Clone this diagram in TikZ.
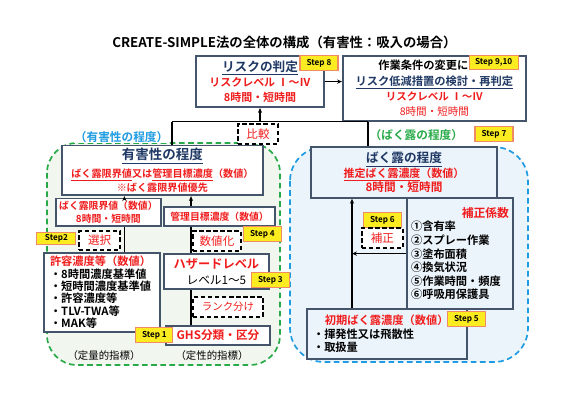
\documentclass[tikz,border=0pt]{standalone}
\usepackage{fontspec}
\setmainfont{Noto Sans CJK JP}[BoldFont={Noto Sans CJK JP Bold}]
\usetikzlibrary{positioning, arrows.meta, calc, backgrounds}

\definecolor{boxline}{RGB}{68,84,106}
\definecolor{navy}{RGB}{31,56,100}
\definecolor{myred}{RGB}{240,28,28}
\definecolor{hzgreen}{RGB}{40,170,72}
\definecolor{hzfill}{RGB}{241,246,238}
\definecolor{exblue}{RGB}{30,155,225}
\definecolor{exfill}{RGB}{236,244,251}
\definecolor{tagfill}{RGB}{250,236,32}
\definecolor{tagline}{RGB}{240,140,100}

\newcommand{\fsz}[2]{\fontsize{#1}{#2}\selectfont}

\begin{document}
\begin{tikzpicture}[
  align=center,
  % box styles
  mainbox/.style={draw=boxline, rectangle, line width=1.3pt, inner sep=2pt},
  notebox/.style={draw=black, dashed, dash pattern=on 3pt off 2pt, line width=0.9pt, fill=white, text=myred, minimum height=0.5cm, inner sep=1pt, font=\fsz{8.2}{9}},
  steptag/.style={draw=tagline, fill=tagfill, line width=0.8pt, minimum width=0.95cm, minimum height=0.36cm, inner sep=1pt, font=\fsz{5.8}{6}\bfseries},
  zonebox/.style={dashed, dash pattern=on 4pt off 2.5pt, line width=1.2pt},
  % connector styles
  line/.style={draw, -{Stealth[length=3.5pt, width=3pt]}, line width=0.8pt},
  seg/.style={draw, line width=0.8pt}
]
  \useasboundingbox (0,0) rectangle (14.15,-10);

  % ==========================================
  % TITLE
  % ==========================================
  \node[font=\fsz{9.5}{11}\bfseries] (title) at (7.11,-1.05) {CREATE-SIMPLE法の全体の構成（有害性：吸入の場合）};

  % ==========================================
  % TOP ROW: RISK
  % ==========================================
  \node[mainbox, fill=white, minimum width=3.2cm, minimum height=1.275cm, font=\fsz{7.8}{11}\bfseries] (risk) at (6.5,-2.04)
    {{\fsz{9}{11}\color{navy}\underline{リスクの判定}}\\\textcolor{myred}{リスクレベル Ⅰ～Ⅳ}\\\textcolor{myred}{8時間・短時間}};
  \node[mainbox, fill=white, minimum width=4.575cm, minimum height=1.625cm, font=\fsz{8}{11}] (change) at (10.86,-2.21)
    {\textbf{作業条件の変更による}\\{\bfseries\color{navy}\underline{リスク低減措置の検討・再判定}}\\{\fsz{7.5}{11}\bfseries\color{myred}リスクレベル Ⅰ～Ⅳ}\\{\fsz{7.5}{11}\color{myred}8時間・短時間}};

  \node[steptag] (s8) at (7.975,-1.575) {Step 8};
  \node[steptag, minimum width=1.225cm] (s910) at (12.34,-1.56) {Step 9,10};

  \draw[line] (risk.east) -- (risk.east -| change.west);

  % comparison bus
  \coordinate (busL) at (4.3,-3.04);
  \coordinate (busR) at (9.2,-3.04);
  \node[notebox, minimum width=1.0cm] (cmp) at (6.45,-3.35) {比較};

  % ==========================================
  % LEFT ZONE: HAZARD
  % ==========================================
  \node[font=\fsz{8.3}{9}\bfseries, text=exblue, fill=white, inner sep=0.5pt] (hzlabel) at (3.04,-3.425) {（有害性の程度）};

  \node[mainbox, fill=white, minimum width=5.025cm, minimum height=1.175cm, font=\fsz{7.2}{8.6}\bfseries] (haz) at (4.06,-4.26)
    {{\fsz{9.6}{11}\color{navy}\underline{有害性の程度}}\\[2.6pt]\textcolor{myred}{\underline{ばく露限界値}又は\underline{管理目標濃度}（数値）}\\\textcolor{myred}{※ばく露限界値優先}};
  \node[mainbox, fill=white, minimum width=2.625cm, minimum height=0.675cm, font=\fsz{7}{9.2}\bfseries, text=myred] (oel) at (2.71,-5.31)
    {ばく露限界値（数値）\\8時間・短時間};
  \node[mainbox, fill=white, minimum width=2.775cm, minimum height=0.475cm, font=\fsz{7}{9}\bfseries, text=myred] (ctrl) at (5.49,-5.41)
    {管理目標濃度（数値）};

  \node[steptag, minimum width=0.975cm, minimum height=0.3cm] (s2) at (1.41,-5.97) {Step2};
  \node[notebox, minimum width=1.025cm, minimum height=0.475cm] (sel) at (2.49,-6.01) {選択};
  \node[notebox, minimum width=1.2cm] (num) at (5.425,-6.025) {数値化};
  \node[steptag] (s4) at (6.56,-5.85) {Step 4};

  \node[mainbox, fill=white, minimum width=2.9cm, minimum height=1.975cm, text width=2.6cm, align=left, font=\fsz{8}{8.8}\bfseries] (perm) at (2.55,-7.31)
    {\textcolor{myred}{許容濃度等（数値）}\\・8時間濃度基準値\\・短時間濃度基準値\\・許容濃度等\\・TLV-TWA等\\・MAK等};
  \node[mainbox, fill=white, minimum width=2.625cm, minimum height=0.875cm, font=\fsz{8.3}{11.5}] (hzl) at (5.41,-6.79)
    {\textbf{\textcolor{myred}{\fsz{8.7}{11.5}ハザードレベル}}\\レベル1～5};
  \node[steptag] (s3) at (6.76,-7.0) {Step 3};
  \node[notebox, minimum width=1.75cm, font=\fsz{7.4}{9}] (rank) at (5.7,-7.675) {ランク分け};
  \node[mainbox, fill=white, minimum width=2.6cm, minimum height=0.475cm, font=\fsz{8.3}{9}\bfseries, text=myred] (ghs) at (5.45,-8.39) {GHS分類・区分};
  \node[steptag, minimum width=0.925cm] (s1) at (3.86,-8.375) {Step 1};

  \node[font=\fsz{7.4}{9}] (quant) at (2.6,-8.9) {（定量的指標）};
  \node[font=\fsz{7.4}{9}] (qual) at (5.3,-8.9) {（定性的指標）};

  % hazard connectors
  \coordinate (qline) at (3.11,-5.0);
  \coordinate (hline) at (4.775,-5.0);
  \draw[line] (qline |- oel.north) -- (qline |- haz.south);
  \draw[seg] (qline |- perm.north) -- (qline |- oel.south);
  \draw[line] (hline |- ctrl.north) -- (hline |- haz.south);
  \draw[seg] (hline |- hzl.north) -- (hline |- ctrl.south);
  \draw[seg] (hline |- ghs.north) -- (hline |- hzl.south);

  % ==========================================
  % RIGHT ZONE: EXPOSURE
  % ==========================================
  \node[font=\fsz{8.3}{9}\bfseries, text=hzgreen] (exlabel) at (10.41,-3.375) {（ばく露の程度）};
  \node[steptag] (s7) at (12.35,-3.35) {Step 7};

  \node[mainbox, fill=exfill, minimum width=4.65cm, minimum height=1.275cm, font=\fsz{7.8}{10.3}\bfseries] (expo) at (10.1,-4.31)
    {{\fsz{9}{10.3}\color{navy}\underline{ばく露の程度}}\\\textcolor{myred}{\underline{推定ばく露濃度}（数値）}\\{\fsz{8.3}{10.3}\color{myred}8時間・短時間}};
  \node[mainbox, fill=exfill, minimum width=2.65cm, minimum height=2.775cm, text width=2.45cm, inner xsep=0.1cm, align=left, font=\fsz{8}{9.7}\bfseries] (corr) at (11.5,-6.34)
    {\hspace*{\fill}\textcolor{myred}{\fsz{8.4}{9.7}補正係数}\hspace*{\fill}\\①含有率\\②スプレー作業\\③塗布面積\\④換気状況\\⑤作業時間・頻度\\⑥呼吸用保護具};
  \node[steptag] (s6) at (9.56,-5.5) {Step 6};
  \node[notebox, minimum width=1.025cm] (adj) at (9.56,-5.95) {補正};

  \node[mainbox, fill=exfill, minimum width=4.0cm, minimum height=1.25cm, text width=3.7cm, align=left, font=\fsz{8}{9.6}\bfseries] (init) at (9.675,-8.35)
    {\hspace*{1.05em}\textcolor{myred}{初期ばく露濃度（数値）}\\・揮発性又は飛散性\\・取扱量};
  \node[steptag] (s5) at (11.66,-7.975) {Step 5};

  % exposure connectors
  \coordinate (eline) at (8.8,-7.0);
  \draw[line] (eline |- init.north) -- (eline |- expo.south);
  \draw[line] (corr.west) -- (corr.west -| eline);

  % bus to risk
  \draw[seg] (busL) -- (busR);
  \draw[seg] (busL) -- (busL |- haz.north);
  \draw[seg] (busR) -- (busR |- expo.north);
  \draw[line] (busL -| risk.south) -- (risk.south);

  % ==========================================
  % BACKGROUND LAYER
  % ==========================================
  \begin{scope}[on background layer]
    \draw[zonebox, draw=hzgreen, fill=hzfill, rounded corners=0.75cm] (1.175,-3.575) rectangle (7.0,-9.125);
    \draw[zonebox, draw=exblue, fill=exfill, rounded corners=0.85cm] (7.25,-3.675) rectangle (13.2,-9.05);
  \end{scope}

\end{tikzpicture}
\end{document}
